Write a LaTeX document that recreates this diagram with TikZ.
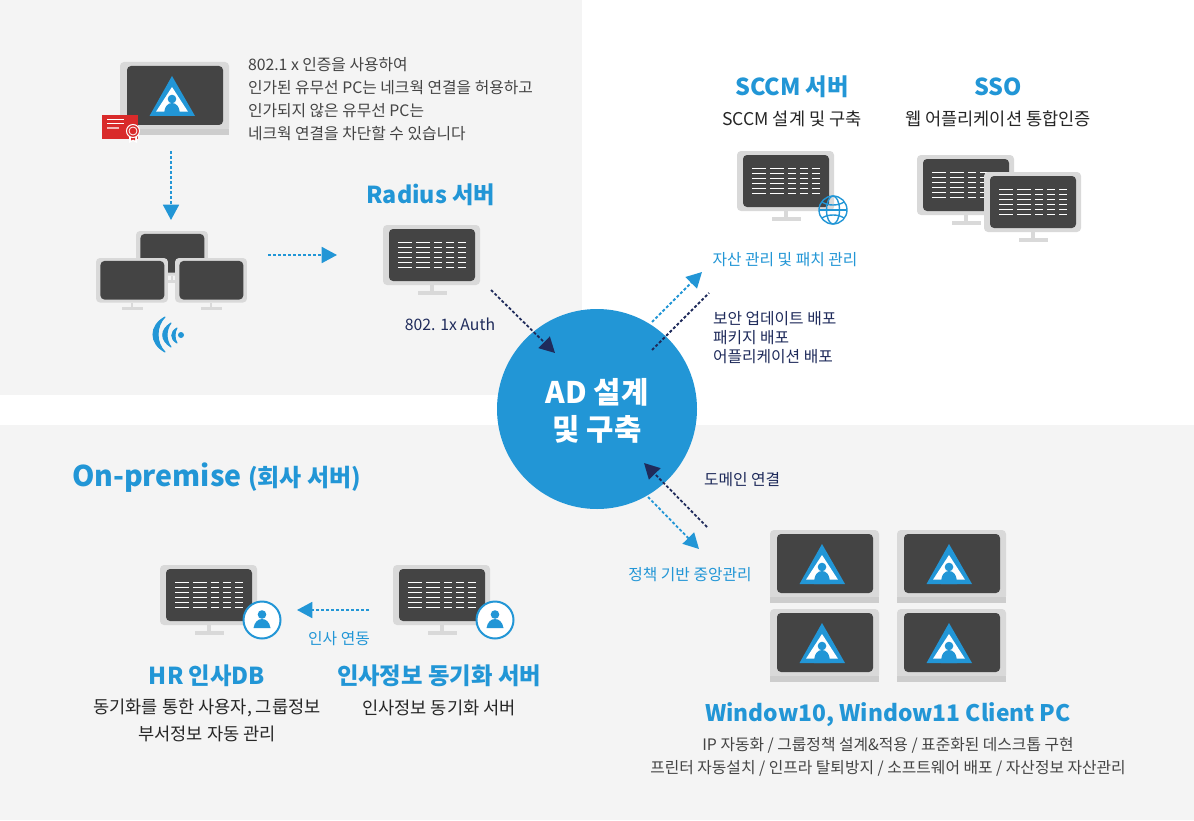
\documentclass[tikz,border=0pt]{standalone}
\usepackage{fontspec}
\setmainfont{Noto Sans CJK KR}
\usetikzlibrary{arrows.meta}
\definecolor{panel}{HTML}{F4F4F4}
\definecolor{blu}{HTML}{2296D6}
\definecolor{navy}{HTML}{1F2B5B}
\definecolor{scr}{HTML}{444444}
\definecolor{frame}{HTML}{D9D9D9}
\definecolor{frameb}{HTML}{CDCDCD}
\definecolor{body}{HTML}{444444}
\definecolor{crt}{HTML}{D92A2A}
\tikzset{
  x=0.75pt,y=-0.75pt,
  txt/.style={inner sep=0pt,outer sep=0pt,align=center,yshift=-0.75pt,font=\fontsize{11.8pt}{14pt}\selectfont},
  lbl/.style={txt,font=\fontsize{11.85pt}{14pt}\selectfont},
  sub/.style={txt,text=black!85,font=\fontsize{13.2pt}{16pt}\selectfont},
  head/.style={txt,text=blu,font=\fontsize{17.5pt}{21pt}\selectfont\bfseries},
  bluedash/.style={blu,line width=1.35pt,dash pattern=on 2.2pt off 1.55pt},
  navydash/.style={navy,line width=1.35pt,dash pattern=on 2.2pt off 1.55pt},
  tip/.style={-{Triangle[length=11.5pt,width=12pt]}},
  monitor/.pic={
    \fill[frame,rounded corners=3pt] (0,0) rectangle (97,60);
    \fill[frame] (46.5,60) rectangle (50.5,67);
    \fill[frame] (35,66) rectangle (64,70);
    \fill[scr,rounded corners=3pt] (6,4) rectangle (92,56);
  },
  srvlines/.pic={
    \foreach \yy in {17,22,27,32,37,42}{
      \foreach \xa/\xb in {15/29,33/47,51/59,63/71,75/83}{
        \draw[white,line width=0.75pt] (\xa,\yy) -- (\xb,\yy);
      }
    }
  },
  laptop/.pic={
    \fill[frame,rounded corners=3pt] (0,0) rectangle (109,70);
    \fill[frameb] (0,67) rectangle (109,73);
    \fill[scr,rounded corners=3pt] (7,4) rectangle (103,63);
    \fill[blu] (52,14) -- (75,54) -- (29.5,54) -- cycle;
    \fill[white] (52,25) -- (68,49.7) -- (36,49.7) -- cycle;
    \fill[blu] (52,37) circle[radius=4.3];
    \fill[blu] (44,54) .. controls (44,44) and (48,41) .. (52,41) .. controls (56,41) and (60,44) .. (60,54) -- cycle;
  },
  badge/.pic={
    \draw[blu,fill=white,line width=1.5pt] (0,0) circle[radius=18.5];
    \fill[blu] (0,-5.5) circle[radius=4.3];
    \fill[blu] (-8.5,8) .. controls (-7.5,2) and (-4,-1) .. (0,-1) .. controls (4,-1) and (7.5,2) .. (8.5,8) -- cycle;
  },
}
\begin{document}
\begin{tikzpicture}
\path[use as bounding box] (0,0) rectangle (1194,820);
\fill[white] (0,0) rectangle (1194,820);
\fill[panel] (0,0) rectangle (582,395);
\fill[panel] (0,425) rectangle (1194,820);

% top-left laptop and certificate
\pic at (120,62) {laptop};
\fill[crt] (102,115) rectangle (138,139);
\draw[white,line width=0.75pt] (107,119.5) -- (124,119.5) (107,124) -- (124,124);
\draw[white!65!crt,line width=1pt] (107,128) -- (119,128);
\fill[white] (129,135) -- (129,143) -- (133,141) -- (137,143) -- (137,135) -- cycle;
\fill[crt] (131,136) -- (131,140.5) -- (133,139.5) -- (135,140.5) -- (135,136) -- cycle;
\draw[white,fill=crt,line width=0.75pt] (133,131) circle[radius=6.5];
\draw[white,line width=0.6pt] (133,131) circle[radius=4];

\node[lbl,text=body,anchor=west] (t1) at (248,64) {802.1 x 인증을 사용하여};
\node[lbl,text=body,anchor=west] (t2) at (248,87) {인가된 유무선 PC는 네크웍 연결을 허용하고};
\node[lbl,text=body,anchor=west] (t3) at (248,110) {인가되지 않은 유무선 PC는};
\node[lbl,text=body,anchor=west] (t4) at (248,133) {네크웍 연결을 차단할 수 있습니다};

% cluster
\pic[scale=0.742] at (136,231) {monitor};
\pic[scale=0.742] at (96,258) {monitor};
\pic[scale=0.742] at (175,258) {monitor};
\fill[blu] (181,335) circle[radius=3];
\fill[blu,draw=blu,line width=0.8pt,line join=round] (165,317) .. controls (149,326) and (149,343) .. (165,352) .. controls (155.7,343) and (155.7,326) .. cycle;
\fill[blu,draw=blu,line width=0.8pt,line join=round] (171,323) .. controls (160,330) and (160,340) .. (171,347) .. controls (165.7,340) and (165.7,330) .. cycle;
\fill[blu,draw=blu,line width=0.8pt,line join=round] (177,328) .. controls (170,332) and (170,339) .. (177,343) .. controls (174.3,339) and (174.3,332) .. cycle;

% radius
\node[head] (radius) at (431,194) {Radius 서버};
\pic at (383,225) {monitor};
\pic at (383,225) {srvlines};
\node[lbl,text=navy] (auth) at (450,323) {802. 1x Auth};

% SCCM / SSO
\node[head] (sccm) at (792,86) {SCCM 서버};
\node[head] (sso) at (998,86) {SSO};
\node[sub] (sccms) at (792,118) {SCCM 설계 및 구축};
\node[sub] (ssos) at (998,118) {웹 어플리케이션 통합인증};
\pic at (737,151) {monitor};
\pic at (737,151) {srvlines};
\begin{scope}[shift={(833,210)},blu,line width=1.05pt]
  \draw (0,0) circle[radius=14];
  \draw (0,0) ellipse[x radius=6.5,y radius=14];
  \draw (-11,-8) .. controls (-5,-4) and (5,-4) .. (11,-8);
  \draw (-11,8) .. controls (-5,4) and (5,4) .. (11,8);
  \draw (-14,0) -- (14,0);
\end{scope}
\pic at (917,155) {monitor};
\pic at (917,155) {srvlines};
\pic at (984,172) {monitor};
\pic at (984,172) {srvlines};

\node[lbl,text=blu] (asset) at (785,259) {자산 관리 및 패치 관리};
\node[lbl,text=navy,anchor=west] (d1) at (713,318) {보안 업데이트 배포};
\node[lbl,text=navy,anchor=west] (d2) at (713,337) {패키지 배포};
\node[lbl,text=navy,anchor=west] (d3) at (713,356) {어플리케이션 배포};

% hub
\node[circle,fill=blu,minimum size=150pt,inner sep=0pt] (hub) at (597,409) {};
\node[txt,text=white,font=\fontsize{22.3pt}{26pt}\selectfont\bfseries] (ad1) at (597,391) {AD 설계};
\node[txt,text=white,font=\fontsize{22.3pt}{26pt}\selectfont\bfseries] (ad2) at (597,428) {및 구축};

\node[lbl,text=navy,anchor=west] (dom) at (704,479) {도메인 연결};
\node[lbl,text=blu] (pol) at (690,574) {정책 기반 중앙관리};

% on-premise
\node[txt,text=blu,anchor=west,font=\fontsize{21.4pt}{26pt}\selectfont\bfseries] (onp) at (72,477) {On-premise \fontsize{18pt}{20pt}\selectfont(회사 서버)};
\pic at (160,565) {monitor};
\pic at (160,565) {srvlines};
\pic at (262,620) {badge};
\pic at (393,565) {monitor};
\pic at (393,565) {srvlines};
\pic at (495,620) {badge};
\node[lbl,text=blu] (link) at (339,638) {인사 연동};
\node[head] (hr) at (207,675) {HR 인사DB};
\node[head] (sync) at (439,675) {인사정보 동기화 서버};
\node[sub] (hr1) at (207,707) {동기화를 통한 사용자, 그룹정보};
\node[sub] (hr2) at (207,733) {부서정보 자동 관리};
\node[sub] (sync1) at (439,707) {인사정보 동기화 서버};

% clients
\pic at (770,530) {laptop};
\pic at (897,530) {laptop};
\pic at (770,609) {laptop};
\pic at (897,609) {laptop};
\node[txt,text=blu,font=\fontsize{17.1pt}{21pt}\selectfont\bfseries] (win) at (888,714) {Window10, Window11 Client PC};
\node[lbl,text=body] (w1) at (888,744) {IP 자동화 / 그룹정책 설계\&적용 / 표준화된 데스크톱 구현};
\node[lbl,text=body] (w2) at (888,767) {프린터 자동설치 / 인프라 탈퇴방지 / 소프트웨어 배포 / 자산정보 자산관리};

% connectors
\coordinate (a1s) at (171,151); \coordinate (a1e) at (171,220);
\coordinate (a2s) at (268,255); \coordinate (a2e) at (337,255);
\coordinate (a3s) at (491,290); \coordinate (a3e) at (555,353);
\coordinate (a4s) at (652,322); \coordinate (a4e) at (702,272);
\coordinate (a5s) at (652,350); \coordinate (a5e) at (709,293);
\coordinate (a6s) at (707,527); \coordinate (a6e) at (644,463);
\coordinate (a7s) at (648,497); \coordinate (a7e) at (699,549);
\coordinate (a8s) at (369,610); \coordinate (a8e) at (297,610);
\draw[bluedash,tip] (a1s) -- (a1e);
\draw[bluedash,tip] (a2s) -- (a2e);
\draw[navydash,tip] (a3s) -- (a3e);
\draw[bluedash,tip] (a4s) -- (a4e);
\draw[navydash] (a5s) -- (a5e);
\draw[navydash,tip] (a6s) -- (a6e);
\draw[bluedash,tip] (a7s) -- (a7e);
\draw[bluedash,tip] (a8s) -- (a8e);
\end{tikzpicture}
\end{document}
